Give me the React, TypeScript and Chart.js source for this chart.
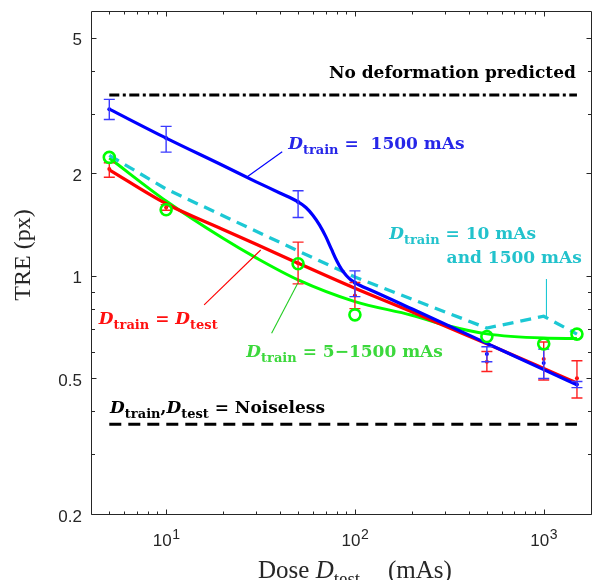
import React, { useEffect, useRef } from "react";
import { Chart, registerables } from "chart.js";

Chart.register(...registerables);

// ---------------- data ----------------
const doses = [5, 10, 50, 100, 500, 1000, 1500];

const blueMean = [3.09, 2.54, 1.65, 0.955, 0.59, 0.555, 0.48];
const blueLow = [2.88, 2.31, 1.485, 0.87, 0.56, 0.5, 0.47];
const blueHigh = [3.3, 2.75, 1.78, 1.035, 0.62, 0.61, 0.49];

const redMean = [2.06, 1.59, 1.09, 0.876, 0.56, 0.57, 0.501];
const redLow = [1.95, 1.56, 0.948, 0.802, 0.524, 0.495, 0.438];
const redHigh = [2.15, 1.62, 1.257, 0.957, 0.6, 0.64, 0.564];

const greenMarks = [2.23, 1.565, 1.086, 0.769, 0.664, 0.632, 0.675];
const cyanVals = [2.26, 1.8, 1.185, 0.993, 0.703, 0.762, 0.675];

const blueFitX = [5, 10, 20, 30, 40, 50, 55, 60, 65, 70, 75, 80, 85, 90, 95, 100, 110, 120, 200, 500, 1000, 1500];
const blueFitY = [3.09, 2.54, 2.11, 1.89, 1.753, 1.65, 1.589, 1.506, 1.411, 1.307, 1.201, 1.11, 1.045, 1.003, 0.975, 0.956, 0.93, 0.911, 0.801, 0.634, 0.531, 0.479];

const redFitX = [5, 10, 20, 30, 50, 100, 200, 300, 500, 1000, 1500];
const redFitY = [2.05, 1.63, 1.37, 1.24, 1.09, 0.92, 0.785, 0.713, 0.632, 0.535, 0.485];

const greenFitX = [5, 10, 20, 30, 50, 100, 200, 300, 500, 1000, 1500];
const greenFitY = [2.22, 1.66, 1.29, 1.13, 0.974, 0.841, 0.767, 0.718, 0.676, 0.657, 0.655];

const refSpan = [5, 1500];
const noDeformY = 3.4;
const noiselessY = 0.367;

const xMajorTicks = [10, 100, 1000];
const xMajorExp = ["1", "2", "3"];
const xMinorTicks = [5, 6, 7, 8, 9, 20, 30, 40, 50, 60, 70, 80, 90, 200, 300, 400, 500, 600, 700, 800, 900];
const yMajorTicks = [0.2, 0.5, 1, 2, 5];
const yMajorLabels = ["0.2", "0.5", "1", "2", "5"];
const yMinorTicks = [0.3, 0.4, 0.6, 0.7, 0.8, 0.9, 3, 4];

const X_MIN = 4, X_MAX = 1800, Y_MIN = 0.2, Y_MAX = 6;

// ---------------- colors ----------------
const BLUE = "#0000FF";
const RED = "#FF0000";
const GREEN = "#00FF00";
const CYAN = "#1CC8D4";
const AXIS = "#262626";

type Run = [string, "n" | "i" | "s"];

// annotation texts (anchored in data coordinates)
const annotations: { runs: Run[]; x: number; y: number; align: string; color: string }[] = [
  { runs: [["No deformation predicted", "n"]], x: 1480, y: 3.82, align: "right", color: "#000000" },
  { runs: [["D", "i"], ["train", "s"], [" =  1500 mAs", "n"]], x: 44.3, y: 2.36, align: "left", color: "#2626E8" },
  { runs: [["D", "i"], ["train", "s"], [" = 10 mAs", "n"]], x: 152, y: 1.281, align: "left", color: "#22C2CC" },
  { runs: [["and 1500 mAs", "n"]], x: 306, y: 1.092, align: "left", color: "#22C2CC" },
  { runs: [["D", "i"], ["train", "s"], [" = ", "n"], ["D", "i"], ["test", "s"]], x: 4.4, y: 0.721, align: "left", color: "#FF1010" },
  { runs: [["D", "i"], ["train", "s"], [" = 5\u22121500 mAs", "n"]], x: 26.6, y: 0.579, align: "left", color: "#3CD83C" },
  { runs: [["D", "i"], ["train", "s"], [",", "n"], ["D", "i"], ["test", "s"], [" = Noiseless", "n"]], x: 5.05, y: 0.395, align: "left", color: "#000000" },
];

const leaders: { from: [number, number]; to: [number, number]; color: string }[] = [
  { from: [26.9, 1.957], to: [41.2, 2.317], color: BLUE },
  { from: [1034, 0.98], to: [1034, 0.758], color: CYAN },
  { from: [15.9, 0.822], to: [31.7, 1.192], color: RED },
  { from: [36.2, 0.679], to: [49.8, 0.952], color: "#22CC22" },
];

function fontFor(kind: string, size: number, family: string, bold: boolean) {
  const b = bold ? "bold " : "";
  if (kind === "i") return `italic ${b}${size}px ${family}`;
  if (kind === "s") return `${b}${Math.round(size * 0.74)}px ${family}`;
  return `${b}${size}px ${family}`;
}

function drawRuns(ctx: CanvasRenderingContext2D, runs: Run[], x: number, y: number, align: string, color: string, family: string, size: number, bold: boolean) {
  let total = 0;
  const widths = runs.map(([t, k]) => {
    ctx.font = fontFor(k, size, family, bold);
    const w = ctx.measureText(t).width;
    total += w;
    return w;
  });
  let cx = align === "right" ? x - total : align === "center" ? x - total / 2 : x;
  ctx.fillStyle = color;
  ctx.textBaseline = "alphabetic";
  ctx.textAlign = "left";
  runs.forEach(([t, k], i) => {
    ctx.font = fontFor(k, size, family, bold);
    ctx.fillText(t, cx, k === "s" ? y + size * 0.3 : y);
    cx += widths[i];
  });
}

const pairs = (xs: number[], ys: number[]) => xs.map((x, i) => ({ x, y: ys[i] }));

const bgPlugin = {
  id: "bg",
  beforeDraw(chart: any) {
    const ctx = chart.ctx;
    ctx.save();
    ctx.fillStyle = "#ffffff";
    ctx.fillRect(0, 0, chart.width, chart.height);
    ctx.restore();
  },
};

const errorBarPlugin = {
  id: "errbars",
  afterDatasetDraw(chart: any, args: any) {
    const ds = chart.data.datasets[args.index];
    if (!ds.errLow) return;
    const ctx = chart.ctx;
    const xs = chart.scales.x, ys = chart.scales.y;
    ctx.save();
    ctx.strokeStyle = ds.errColor;
    ctx.lineWidth = 1.4;
    const cap = 5.5;
    ds.data.forEach((p: any, i: number) => {
      const px = xs.getPixelForValue(p.x);
      const yl = ys.getPixelForValue(ds.errLow[i]);
      const yh = ys.getPixelForValue(ds.errHigh[i]);
      ctx.beginPath();
      ctx.moveTo(px, yl); ctx.lineTo(px, yh);
      ctx.moveTo(px - cap, yl); ctx.lineTo(px + cap, yl);
      ctx.moveTo(px - cap, yh); ctx.lineTo(px + cap, yh);
      ctx.stroke();
    });
    ctx.restore();
  },
};

const decorPlugin = {
  id: "decor",
  afterDraw(chart: any) {
    const ctx: CanvasRenderingContext2D = chart.ctx;
    const xs = chart.scales.x, ys = chart.scales.y;
    const a = chart.chartArea;
    const L = Math.round(a.left) + 0.5, R = Math.round(a.right) - 0.5;
    const T = Math.round(a.top) + 0.5, B = Math.round(a.bottom) + 0.5;
    ctx.save();
    // leaders
    leaders.forEach((l) => {
      ctx.strokeStyle = l.color;
      ctx.lineWidth = 1.1;
      ctx.beginPath();
      ctx.moveTo(xs.getPixelForValue(l.from[0]), ys.getPixelForValue(l.from[1]));
      ctx.lineTo(xs.getPixelForValue(l.to[0]), ys.getPixelForValue(l.to[1]));
      ctx.stroke();
    });
    // annotations
    annotations.forEach((an) => {
      drawRuns(ctx, an.runs, xs.getPixelForValue(an.x), ys.getPixelForValue(an.y), an.align, an.color, '"DejaVu Serif"', 17, true);
    });
    // axes box
    ctx.strokeStyle = AXIS;
    ctx.lineWidth = 1;
    ctx.beginPath();
    ctx.moveTo(L, T); ctx.lineTo(R, T); ctx.lineTo(R, B); ctx.lineTo(L, B); ctx.closePath();
    ctx.stroke();
    // ticks
    const tickX = (v: number, len: number) => {
      const px = Math.round(xs.getPixelForValue(v)) + 0.5;
      ctx.beginPath();
      ctx.moveTo(px, B); ctx.lineTo(px, B - len);
      ctx.moveTo(px, T); ctx.lineTo(px, T + len);
      ctx.stroke();
    };
    const tickY = (v: number, len: number) => {
      const py = Math.round(ys.getPixelForValue(v)) + 0.5;
      ctx.beginPath();
      ctx.moveTo(L, py); ctx.lineTo(L + len, py);
      ctx.moveTo(R, py); ctx.lineTo(R - len, py);
      ctx.stroke();
    };
    xMajorTicks.forEach((v) => tickX(v, 5));
    xMinorTicks.forEach((v) => tickX(v, 3));
    yMajorTicks.forEach((v) => tickY(v, 5));
    yMinorTicks.forEach((v) => tickY(v, 3.5));
    // tick labels
    ctx.fillStyle = AXIS;
    ctx.textBaseline = "alphabetic";
    yMajorTicks.forEach((v, i) => {
      ctx.font = '17px "Liberation Sans"';
      ctx.textAlign = "right";
      ctx.fillText(yMajorLabels[i], L - 9.5, ys.getPixelForValue(v) + 7.5);
    });
    xMajorTicks.forEach((v, i) => {
      ctx.textAlign = "left";
      ctx.font = '17px "Liberation Sans"';
      const w1 = ctx.measureText("10").width;
      ctx.font = '14px "Liberation Sans"';
      const w2 = ctx.measureText(xMajorExp[i]).width;
      const px = xs.getPixelForValue(v);
      const sx = px - (w1 + w2) / 2;
      ctx.font = '17px "Liberation Sans"';
      ctx.fillText("10", sx, B + 31.5);
      ctx.font = '14px "Liberation Sans"';
      ctx.fillText(xMajorExp[i], sx + w1 + 0.5, B + 24);
    });
    // axis titles
    drawRuns(ctx, [["Dose ", "n"], ["D", "i"], ["test", "s"]], 258, B + 63, "left", AXIS, '"Liberation Serif"', 25, false);
    ctx.font = '25px "Liberation Serif"';
    ctx.textAlign = "left";
    ctx.fillStyle = AXIS;
    ctx.fillText("(mAs)", 388, B + 63);
    ctx.save();
    ctx.translate(30, 255);
    ctx.rotate(-Math.PI / 2);
    ctx.font = '24px "Liberation Serif"';
    ctx.textAlign = "center";
    ctx.fillText("TRE (px)", 0, 0);
    ctx.restore();
    ctx.restore();
  },
};

export default function App() {
  const ref = useRef<HTMLCanvasElement>(null);
  useEffect(() => {
    if (!ref.current) return;
    const lineDs = (data: any[], color: string, width: number, extra: any = {}) => ({
      type: "scatter",
      data,
      showLine: true,
      borderColor: color,
      backgroundColor: color,
      borderWidth: width,
      pointRadius: 0,
      fill: false,
      ...extra,
    });
    const chart = new Chart(ref.current, {
      type: "scatter",
      data: {
        datasets: [
          {
            data: pairs(doses, greenMarks),
            showLine: false,
            pointRadius: 5.5,
            pointBorderWidth: 2.6,
            pointBorderColor: GREEN,
            pointBackgroundColor: "rgba(0,0,0,0)",
          },
          {
            data: pairs(doses, blueMean),
            showLine: false,
            pointRadius: 2,
            pointBorderWidth: 0,
            pointBackgroundColor: BLUE,
            errLow: blueLow,
            errHigh: blueHigh,
            errColor: "#3A3AFF",
          },
          {
            data: pairs(doses, redMean),
            showLine: false,
            pointRadius: 2,
            pointBorderWidth: 0,
            pointBackgroundColor: RED,
            errLow: redLow,
            errHigh: redHigh,
            errColor: "#FF2020",
          },
          lineDs(pairs(blueFitX, blueFitY), BLUE, 3.2, { cubicInterpolationMode: "monotone" }),
          lineDs(pairs(doses, cyanVals), CYAN, 3.3, { borderDash: [11, 7], tension: 0 }),
          lineDs(pairs(redFitX, redFitY), RED, 3.3, { cubicInterpolationMode: "monotone" }),
          lineDs(pairs(greenFitX, greenFitY), GREEN, 3, { cubicInterpolationMode: "monotone" }),
          lineDs(pairs(refSpan, [noDeformY, noDeformY]), "#000000", 3, { borderDash: [10, 3.5, 3, 3.5] }),
          lineDs(pairs(refSpan, [noiselessY, noiselessY]), "#000000", 3, { borderDash: [12, 7] }),
        ] as any,
      },
      options: {
        animation: false,
        responsive: false,
        devicePixelRatio: 1,
        events: [],
        layout: { padding: { left: 91, top: 11, right: 5, bottom: 66 } },
        scales: {
          x: { type: "logarithmic", min: X_MIN, max: X_MAX, display: false },
          y: { type: "logarithmic", min: Y_MIN, max: Y_MAX, display: false },
        },
        plugins: { legend: { display: false }, tooltip: { enabled: false } },
      } as any,
      plugins: [bgPlugin, errorBarPlugin, decorPlugin],
    });
    return () => chart.destroy();
  }, []);
  return (
    <div style={{ position: "fixed", left: 0, top: 0, width: 593, height: 580, overflow: "hidden", background: "#fff" }}>
      <canvas ref={ref} width={600} height={580} style={{ display: "block", width: 600, height: 580 }} />
    </div>
  );
}
